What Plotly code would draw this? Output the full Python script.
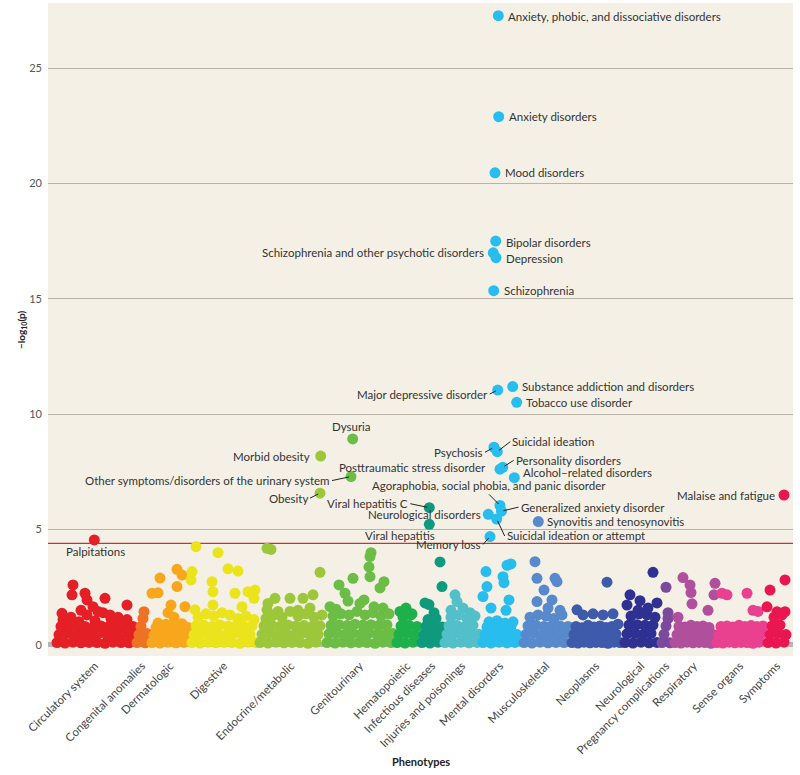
import plotly.graph_objects as go

# =========================
# DATA
# =========================

categories = [
    "Circulatory system", "Congenital anomalies", "Dermatologic", "Digestive",
    "Endocrine/metabolic", "Genitourinary", "Hematopoietic", "Infectious diseases",
    "Injuries and poisonings", "Mental disorders", "Musculoskeletal", "Neoplasms",
    "Neurological", "Pregnancy complications", "Respiratory", "Sense organs", "Symptoms",
]

colors = [
    "#e41f26", "#ee7124", "#f8a61c", "#ebe41c", "#9dc73b", "#6bbd45", "#1eb04b",
    "#0f9a7e", "#52bfc9", "#27bdee", "#5789cc", "#3d5aab", "#2e3192", "#7b4a9c",
    "#b0509c", "#e9408f", "#ea1652",
]

# phenotype position where each category starts (bulk of weak associations)
band_start = [9, 89, 104, 144, 212, 279, 349, 374, 397, 435, 476, 524, 577, 614, 627, 669, 720]

# -log10(p) of the weak associations, in phenotype order
circ_band = [0.1, 0.45, 0.8, 1.1, 0.08, 0.5, 0.78, 1.2, 0.12, 0.42,
             0.82, 1.0, 0.09, 0.48, 0.8, 1.3, 0.11, 0.44, 0.76, 1.05,
             0.1, 0.5, 0.82, 1.4, 0.07, 0.46, 0.8, 1.15, 0.12, 0.43,
             0.78, 1.0, 0.1, 0.47, 0.83, 1.1, 0.09, 0.45, 0.8]
cong_band = [0.1, 0.45, 0.8, 1.15, 0.09, 0.5]
derm_band = [0.1, 0.42, 0.75, 0.95, 0.08, 0.45, 0.78, 0.9, 0.12, 0.4,
             0.72, 1.0, 0.09, 0.46, 0.8, 0.92, 0.11, 0.44, 0.76]
dig_band = [0.1, 0.45, 0.82, 1.2, 0.08, 0.5, 0.85, 1.35, 0.12, 0.46,
            0.8, 1.25, 0.09, 0.48, 0.86, 1.4, 0.11, 0.44, 0.82, 1.3,
            0.1, 0.5, 0.84, 1.15, 0.07, 0.47, 0.8, 1.25, 0.12, 0.45,
            0.83, 1.1, 0.1]
endo_band = [0.1, 0.46, 0.82, 1.15, 0.08, 0.5, 0.85, 1.3, 0.12, 0.45,
             0.8, 1.2, 0.09, 0.48, 0.86, 1.45, 0.11, 0.44, 0.82, 1.25,
             0.1, 0.5, 0.84, 1.35, 0.07, 0.47, 0.8, 1.2, 0.12, 0.45,
             0.83, 1.3]
geni_band = [0.1, 0.48, 0.85, 1.25, 0.08, 0.5, 0.88, 1.35, 0.12, 0.46,
             0.84, 1.3, 0.09, 0.5, 0.9, 1.45, 0.11, 0.47, 0.86, 1.3,
             0.1, 0.5, 0.88, 1.4, 0.07, 0.48, 0.85, 1.25, 0.12, 0.46,
             0.87, 1.35, 0.1, 0.5]
hema_band = [0.1, 0.46, 0.82, 1.2, 0.08, 0.5, 0.85, 1.3, 0.12, 0.45, 0.8]
infe_band = [0.1, 0.45, 0.8, 1.1, 0.08, 0.48, 0.82, 1.15, 0.12, 0.44, 0.78]
inju_band = [0.1, 0.46, 0.82, 1.2, 0.08, 0.5, 0.84, 1.3, 0.12, 0.45,
             0.8, 1.15, 0.09, 0.48, 0.85, 1.25, 0.11, 0.46]
ment_band = [0.1, 0.45, 0.78, 1.0, 0.08, 0.48, 0.8, 1.05, 0.12, 0.44,
             0.76, 0.95, 0.09, 0.46, 0.8, 1.0, 0.11, 0.45]
musc_band = [0.1, 0.46, 0.82, 1.2, 0.08, 0.5, 0.85, 1.3, 0.12, 0.45,
             0.8, 1.25, 0.09, 0.48, 0.84, 1.15, 0.11, 0.46, 0.82, 1.3,
             0.1, 0.5, 0.8]
neop_band = [0.1, 0.45, 0.8, 0.08, 0.48, 0.75, 0.12, 0.44, 0.85, 0.09,
             0.46, 0.78, 0.11, 0.45, 0.82, 0.1, 0.5, 0.76, 0.07, 0.44,
             0.8, 0.12, 0.47, 0.9, 0.1]
neur_band = [0.1, 0.48, 0.86, 1.25, 0.08, 0.5, 0.88, 1.35, 0.12, 0.46,
             0.85, 1.3, 0.09, 0.5, 0.86, 1.2, 0.11]
preg_band = [0.1, 0.46, 0.82, 1.15, 0.09]
resp_band = [0.1, 0.45, 0.8, 0.08, 0.48, 0.78, 0.12, 0.44, 0.85, 0.09,
             0.46, 0.8, 0.11, 0.45, 0.82, 0.1, 0.5, 0.76, 0.07, 0.45]
sens_band = [0.1, 0.45, 0.8, 0.08, 0.48, 0.82, 0.12, 0.44, 0.78, 0.09,
             0.46, 0.85, 0.11, 0.45, 0.8, 0.1, 0.5, 0.84, 0.07, 0.44,
             0.8, 0.12, 0.47, 0.82]
symp_band = [0.1, 0.46, 0.82, 1.2, 0.08, 0.5, 0.86, 1.3, 0.12, 0.45]

bands = [circ_band, cong_band, derm_band, dig_band, endo_band, geni_band, hema_band,
         infe_band, inju_band, ment_band, musc_band, neop_band, neur_band, preg_band,
         resp_band, sens_band, symp_band]

# unlabeled phenotypes that stand out of the bulk (position, -log10 p)
circ_x = [25, 24, 37, 39, 57, 45, 79, 62, 14, 20, 70, 33, 50]
circ_y = [2.6, 2.17, 2.24, 1.95, 2.02, 1.66, 1.73, 1.3, 1.37, 1.08, 1.2, 1.5, 1.45]
cong_x = [96]
cong_y = [1.44]
derm_x = [104, 110, 112, 129, 134, 129, 123, 137, 120, 126]
derm_y = [2.24, 2.26, 2.9, 3.28, 3.03, 2.53, 1.73, 1.66, 1.4, 1.2]
dig_x = [148, 170, 144, 143, 164, 165, 180, 190, 187, 200, 207, 194, 165, 147, 206]
dig_y = [4.26, 4.0, 3.18, 2.82, 2.74, 2.31, 3.3, 3.2, 2.24, 2.31, 2.38, 1.66, 1.73, 1.52, 2.02]
endo_x = [219, 223, 220, 219, 227, 242, 255, 265, 272, 230, 250, 262]
endo_y = [4.19, 4.14, 1.8, 1.52, 2.02, 2.02, 2.02, 2.17, 3.15, 1.45, 1.5, 1.6]
geni_x = [291, 305, 297, 312, 323, 322, 321, 322, 336, 332, 282, 335, 300, 316, 288, 326]
geni_y = [2.6, 2.89, 2.24, 1.8, 4.0, 3.83, 3.38, 2.96, 2.74, 2.47, 1.66, 1.6, 1.9, 1.95,
          1.55, 1.65]
hema_x = [352, 358, 364]
hema_y = [1.45, 1.6, 1.35]
infe_x = [392, 394, 377, 381, 386]
infe_y = [3.6, 2.53, 1.82, 1.75, 1.4]
inju_x = [407, 409, 415, 422, 403]
inju_y = [2.17, 1.88, 1.6, 1.4, 1.5]
ment_x = [463, 438, 455, 439, 461, 435, 443, 458, 459, 456]
ment_y = [3.51, 3.18, 2.96, 2.53, 1.95, 2.1, 1.6, 1.5, 3.45, 2.7]
musc_x = [487, 489, 507, 509, 496, 504, 489, 500, 512]
musc_y = [3.61, 2.89, 2.89, 2.74, 2.38, 1.95, 1.88, 1.6, 1.5]
neop_x = [559, 529, 535, 545, 555, 565]
neop_y = [2.72, 1.52, 1.3, 1.35, 1.3, 1.35]
neur_x = [605, 582, 592, 609, 579, 590, 600]
neur_y = [3.15, 2.17, 1.92, 1.82, 1.73, 1.5, 1.6]
preg_x = [618, 620]
preg_y = [2.5, 1.4]
resp_x = [635, 642, 643, 644, 660, 630, 667, 666]
resp_y = [2.92, 2.6, 2.27, 1.78, 1.5, 1.2, 2.67, 2.17]
sens_x = [674, 679, 699, 705, 710]
sens_y = [2.24, 2.17, 2.24, 1.5, 1.45]
symp_x = [737, 722, 719, 729, 737]
symp_y = [2.82, 2.38, 1.65, 1.44, 1.44]

spots_x = [circ_x, cong_x, derm_x, dig_x, endo_x, geni_x, hema_x, infe_x, inju_x,
           ment_x, musc_x, neop_x, neur_x, preg_x, resp_x, sens_x, symp_x]
spots_y = [circ_y, cong_y, derm_y, dig_y, endo_y, geni_y, hema_y, infe_y, inju_y,
           ment_y, musc_y, neop_y, neur_y, preg_y, resp_y, sens_y, symp_y]

# labeled phenotypes
label_names = [
    "Palpitations", "Dysuria", "Morbid obesity",
    "Other symptoms/disorders of the urinary system", "Obesity",
    "Viral hepatitis C", "Viral hepatitis",
    "Anxiety, phobic, and dissociative disorders", "Anxiety disorders", "Mood disorders",
    "Bipolar disorders", "Schizophrenia and other psychotic disorders", "Depression",
    "Schizophrenia", "Major depressive disorder", "Substance addiction and disorders",
    "Tobacco use disorder", "Psychosis", "Suicidal ideation", "Personality disorders",
    "Posttraumatic stress disorder", "Alcohol\u2013related disorders",
    "Agoraphobia, social phobia, and panic disorder", "Generalized anxiety disorder",
    "Neurological disorders", "Suicidal ideation or attempt", "Memory loss",
    "Synovitis and tenosynovitis", "Malaise and fatigue",
]
label_cat = [0, 5, 4, 5, 4, 7, 7, 9, 9, 9, 9, 9, 9, 9, 9, 9, 9, 9, 9, 9, 9, 9, 9, 9,
             9, 9, 9, 10, 16]
label_x = [46.3, 304.7, 272.7, 303, 272, 381.3, 381.3, 450.3, 450.7, 447, 447.7, 445.3,
           448, 445.7, 449.7, 464.7, 468.7, 446, 449.3, 454.7, 452, 466.3, 452, 453.5,
           440.3, 448.7, 442, 490.3, 736]
label_y = [4.55, 8.93, 8.19, 7.30, 6.58, 5.95, 5.23, 27.28, 22.9, 20.47, 17.51, 17.0,
           16.79, 15.36, 11.05, 11.2, 10.52, 8.57, 8.38, 7.70, 7.62, 7.25, 6.05, 5.8,
           5.66, 5.46, 4.7, 5.35, 6.5]

threshold = 4.4

# =========================
# LABEL PLACEMENT (anchor, dx, dy, leader line)
# =========================

label_place = [
    ("center", 1, -12, False), ("center", -1, 12, False), ("right", -9, 0, False),
    ("right", -19, 4, True), ("right", -10, 5, True),
    ("right", -19, -4, True), ("center", -29, -11, False),
    ("left", 8, -1, False), ("left", 8, 0, False), ("left", 8, 0, False),
    ("left", 8, -1, False), ("right", -7, 0, False), ("left", 8, -1, False),
    ("left", 8, 0, False), ("right", -8, 4, True), ("left", 7, 0, False),
    ("left", 7, 0, False), ("right", -9, 5, True), ("left", 13, -10, True),
    ("left", 11, -7, True), ("right", -12, 2, False), ("left", 7, 5, False),
    ("center", -11, -11, True), ("left", 17, -4, True),
    ("right", -5, 0, False), ("left", 8, 17, True), ("right", -7, 8, True),
    ("left", 7, 0, False), ("right", -7, 0, False),
]

fig = go.Figure()

# =========================
# POINTS
# =========================

tickvals = []
for i, cat in enumerate(categories):
    bx = [band_start[i] + 2 * k for k in range(len(bands[i]))]
    xs = bx + spots_x[i]
    ys = bands[i] + spots_y[i]
    for n, c in enumerate(label_cat):
        if c == i:
            xs.append(label_x[n])
            ys.append(label_y[n])
    tickvals.append((bx[0] + bx[-1]) / 2)

    fig.add_trace(
        go.Scatter(
            x=xs,
            y=ys,
            mode="markers",
            marker=dict(size=11, color=colors[i], line=dict(width=0)),
            name=cat,
            hoverinfo="y+name",
            showlegend=False,
        )
    )

# =========================
# LABELS
# =========================

for n, name in enumerate(label_names):
    anchor, dx, dy, line = label_place[n]
    if line:
        fig.add_annotation(
            x=label_x[n], y=label_y[n], text=name,
            showarrow=True, arrowhead=0, arrowwidth=1, arrowcolor="#222222",
            ax=dx, ay=dy, standoff=2, xanchor=anchor,
            yanchor="bottom" if anchor == "center" else "middle",
            font=dict(size=11.5, color="#333333"),
        )
    else:
        fig.add_annotation(
            x=label_x[n], y=label_y[n], text=name, showarrow=False,
            xanchor=anchor, yanchor="middle", xshift=dx, yshift=dy,
            font=dict(size=11.5, color="#333333"),
        )

# significance threshold
fig.add_hline(y=threshold, line=dict(color="#c9323b", width=1.3), layer="below")

# axis titles
fig.add_annotation(
    x=0.5, y=-0.162, xref="paper", yref="paper", showarrow=False, yshift=-8,
    text="<b>Phenotypes</b>", font=dict(size=11, color="#222222"),
)
fig.add_annotation(
    x=0, y=0.5, xref="paper", yref="paper", showarrow=False, textangle=-90, xshift=-35,
    text="<b>\u2212log<sub>10</sub>(p)</b>", font=dict(size=10, color="#222222"),
)

# =========================
# LAYOUT
# =========================

fig.update_layout(
    width=800,
    height=775,
    margin=dict(l=48, r=7, t=3, b=119),
    paper_bgcolor="white",
    plot_bgcolor="#f5f0e6",
    font=dict(family="Lato, sans-serif", color="#444444", size=11),
    showlegend=False,
    xaxis=dict(
        range=[0, 745],
        tickmode="array",
        tickvals=tickvals,
        ticktext=categories,
        tickangle=-45,
        showgrid=False,
        zeroline=False,
        ticks="",
        automargin=False,
        tickfont=dict(size=11.5, color="#444444"),
    ),
    yaxis=dict(
        range=[-0.48, 27.83],
        tickvals=[0, 5, 10, 15, 20, 25],
        gridcolor="#b9b2a6",
        gridwidth=1,
        zeroline=True,
        zerolinecolor="#b5b5b5",
        zerolinewidth=5,
        ticks="",
        automargin=False,
        ticklabelstandoff=5,
        tickfont=dict(size=11, color="#555555"),
    ),
)

# page body margin off so the figure sits at the window corner
fig.write_html(
    "out.html",
    config={"displayModeBar": False},
    post_script="document.body.style.margin = '0';",
)
